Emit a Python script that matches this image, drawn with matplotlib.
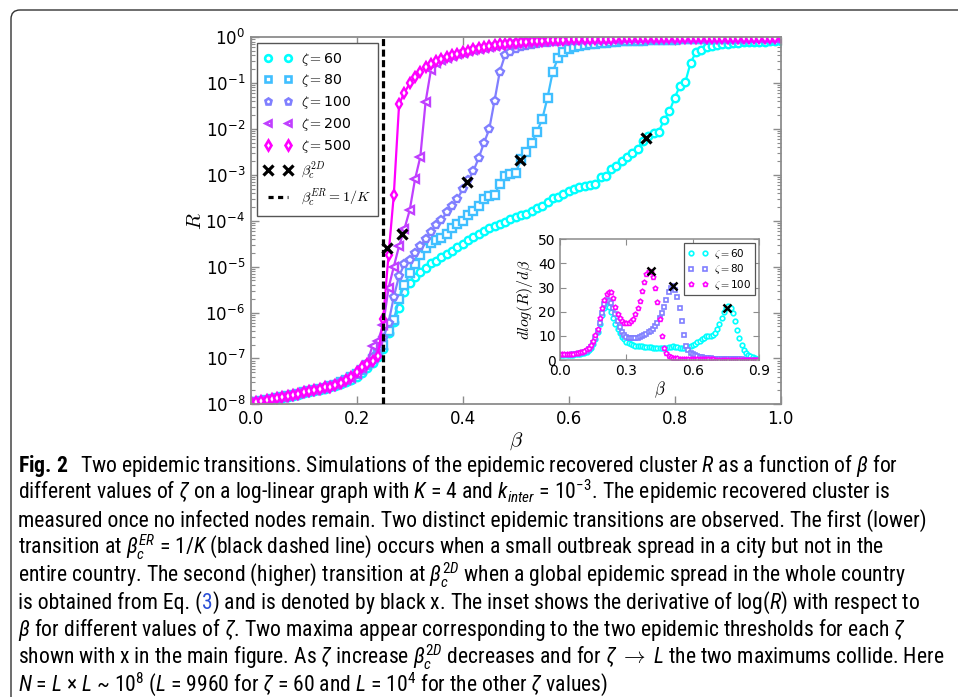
import numpy as np
import matplotlib
matplotlib.use('Agg')
import matplotlib.pyplot as plt
from matplotlib.lines import Line2D
from matplotlib.patches import FancyBboxPatch
from matplotlib.transforms import IdentityTransform
from matplotlib import font_manager as fm
from matplotlib.ticker import FixedLocator, FuncFormatter, LogLocator, NullFormatter

# ---------------- data ----------------
beta = [0.00, 0.01, 0.02, 0.03, 0.04, 0.05, 0.06, 0.07, 0.08, 0.09,
        0.10, 0.11, 0.12, 0.13, 0.14, 0.15, 0.16, 0.17, 0.18, 0.19,
        0.20, 0.21, 0.22, 0.23, 0.24, 0.25, 0.26, 0.27, 0.28, 0.29,
        0.30, 0.31, 0.32, 0.33, 0.34, 0.35, 0.36, 0.37, 0.38, 0.39,
        0.40, 0.41, 0.42, 0.43, 0.44, 0.45, 0.46, 0.47, 0.48, 0.49,
        0.50, 0.51, 0.52, 0.53, 0.54, 0.55, 0.56, 0.57, 0.58, 0.59,
        0.60, 0.61, 0.62, 0.63, 0.64, 0.65, 0.66, 0.67, 0.68, 0.69,
        0.70, 0.71, 0.72, 0.73, 0.74, 0.75, 0.76, 0.77, 0.78, 0.79,
        0.80, 0.81, 0.82, 0.83, 0.84, 0.85, 0.86, 0.87, 0.88, 0.89,
        0.90, 0.91, 0.92, 0.93, 0.94, 0.95, 0.96, 0.97, 0.98, 0.99, 1.00]

# log10(R) for each zeta
log10R_z60 = [-7.97, -7.95, -7.94, -7.92, -7.90, -7.88, -7.86, -7.84, -7.81, -7.79,
              -7.76, -7.74, -7.71, -7.69, -7.66, -7.63, -7.60, -7.56, -7.51, -7.46,
              -7.40, -7.32, -7.22, -7.10, -6.98, -6.80, -6.45, -6.20, -5.90, -5.55,
              -5.35, -5.22, -5.12, -5.02, -4.92, -4.88, -4.80, -4.72, -4.66, -4.58,
              -4.50, -4.42, -4.36, -4.28, -4.22, -4.16, -4.12, -4.07, -4.02, -3.97,
              -3.93, -3.88, -3.85, -3.78, -3.73, -3.67, -3.60, -3.50, -3.48, -3.42,
              -3.36, -3.30, -3.27, -3.24, -3.22, -3.20, -3.05, -3.02, -2.88, -2.80,
              -2.70, -2.62, -2.52, -2.43, -2.27, -2.15, -2.10, -2.06, -1.80, -1.62,
              -1.32, -1.06, -0.98, -0.56, -0.33, -0.29, -0.22, -0.19, -0.17, -0.15,
              -0.14, -0.13, -0.12, -0.115, -0.11, -0.105, -0.10, -0.10, -0.095, -0.09, -0.09]
log10R_z80 = [-7.96, -7.94, -7.93, -7.90, -7.88, -7.87, -7.84, -7.81, -7.80, -7.77,
              -7.74, -7.72, -7.68, -7.66, -7.64, -7.60, -7.57, -7.52, -7.48, -7.41,
              -7.35, -7.26, -7.15, -7.02, -6.90, -6.70, -6.40, -6.16, -5.70, -5.40,
              -5.15, -4.95, -4.74, -4.60, -4.48, -4.42, -4.38, -4.28, -4.15, -4.08,
              -4.00, -3.88, -3.78, -3.68, -3.52, -3.47, -3.44, -3.20, -3.02, -2.99,
              -2.97, -2.65, -2.50, -2.31, -2.06, -1.79, -1.32, -0.75, -0.45, -0.32,
              -0.26, -0.22, -0.19, -0.17, -0.15, -0.14, -0.13, -0.12, -0.11, -0.10,
              -0.095, -0.09, -0.085, -0.08, -0.076, -0.072, -0.068, -0.064, -0.06, -0.057,
              -0.054, -0.051, -0.048, -0.046, -0.044, -0.042, -0.04, -0.038, -0.036, -0.035,
              -0.034, -0.033, -0.032, -0.031, -0.03, -0.029, -0.028, -0.027, -0.026, -0.025, -0.025]
log10R_z100 = [-7.97, -7.95, -7.93, -7.91, -7.89, -7.86, -7.84, -7.82, -7.79, -7.77,
               -7.74, -7.71, -7.69, -7.66, -7.63, -7.60, -7.56, -7.51, -7.46, -7.40,
               -7.33, -7.24, -7.12, -6.98, -6.80, -6.55, -6.23, -5.66, -5.20, -4.95,
               -4.85, -4.70, -4.56, -4.40, -4.24, -4.10, -3.98, -3.82, -3.68, -3.52,
               -3.32, -3.12, -2.92, -2.64, -2.31, -2.01, -1.39, -0.75, -0.39, -0.32,
               -0.26, -0.22, -0.19, -0.17, -0.15, -0.13, -0.12, -0.11, -0.10, -0.09,
               -0.085, -0.08, -0.075, -0.07, -0.065, -0.06, -0.057, -0.054, -0.051, -0.048,
               -0.045, -0.043, -0.041, -0.039, -0.037, -0.035, -0.033, -0.032, -0.031, -0.03,
               -0.029, -0.028, -0.027, -0.026, -0.025, -0.024, -0.023, -0.022, -0.021, -0.02,
               -0.02, -0.019, -0.019, -0.018, -0.018, -0.017, -0.017, -0.016, -0.016, -0.015, -0.015]
log10R_z200 = [-7.96, -7.95, -7.93, -7.90, -7.89, -7.87, -7.84, -7.83, -7.80, -7.76,
               -7.74, -7.71, -7.69, -7.65, -7.64, -7.60, -7.56, -7.52, -7.46, -7.42,
               -7.33, -7.22, -7.08, -6.72, -6.62, -6.27, -5.47, -5.00, -4.55, -4.18,
               -3.77, -3.10, -2.61, -1.41, -0.72, -0.56, -0.50, -0.45, -0.41, -0.37,
               -0.34, -0.31, -0.28, -0.25, -0.23, -0.21, -0.19, -0.17, -0.15, -0.14,
               -0.125, -0.115, -0.105, -0.095, -0.085, -0.078, -0.072, -0.067, -0.062, -0.057,
               -0.052, -0.049, -0.046, -0.044, -0.041, -0.039, -0.037, -0.035, -0.033, -0.031,
               -0.029, -0.028, -0.027, -0.026, -0.025, -0.024, -0.023, -0.022, -0.021, -0.02,
               -0.019, -0.018, -0.017, -0.017, -0.016, -0.016, -0.015, -0.015, -0.014, -0.014,
               -0.013, -0.013, -0.012, -0.012, -0.011, -0.011, -0.011, -0.010, -0.010, -0.010, -0.009]
log10R_z500 = [-7.95, -7.94, -7.92, -7.91, -7.88, -7.86, -7.85, -7.82, -7.80, -7.77,
               -7.74, -7.72, -7.68, -7.66, -7.63, -7.62, -7.57, -7.53, -7.47, -7.40,
               -7.30, -7.18, -7.13, -7.05, -6.95, -6.14, -4.75, -3.44, -1.46, -1.21,
               -1.01, -0.86, -0.75, -0.66, -0.58, -0.52, -0.47, -0.43, -0.40, -0.36,
               -0.33, -0.30, -0.27, -0.24, -0.22, -0.20, -0.18, -0.16, -0.14, -0.13,
               -0.12, -0.11, -0.10, -0.09, -0.08, -0.075, -0.07, -0.065, -0.06, -0.055,
               -0.05, -0.048, -0.045, -0.043, -0.04, -0.038, -0.036, -0.034, -0.032, -0.03,
               -0.028, -0.027, -0.026, -0.025, -0.024, -0.023, -0.022, -0.021, -0.02, -0.019,
               -0.018, -0.017, -0.016, -0.016, -0.015, -0.015, -0.014, -0.014, -0.013, -0.013,
               -0.012, -0.012, -0.011, -0.011, -0.010, -0.010, -0.010, -0.009, -0.009, -0.009, -0.008]

zeta_labels = [r'$\zeta=$60', r'$\zeta=$80', r'$\zeta=$100', r'$\zeta=$200', r'$\zeta=$500']

# black x : beta_c^2D on the curves (zeta = 500, 200, 100, 80, 60)
beta_c2D = [0.257, 0.286, 0.4075, 0.509, 0.745]
R_c2D = [2.6e-5, 5.1e-5, 7.0e-4, 2.1e-3, 6.4e-3]
beta_cER = 0.25

# inset: dlog(R)/dbeta
beta_in = beta[:90]
dlog_z60 = [2.0, 2.0, 2.0, 2.0, 2.1, 2.1, 2.2, 2.3, 2.4, 2.5,
            2.7, 3.0, 3.4, 4.0, 5.0, 6.5, 8.5, 11.5, 15.0, 18.5,
            21.5, 22.5, 22.0, 20.0, 17.5, 15.0, 12.8, 11.0, 9.6, 8.5,
            7.6, 7.0, 6.6, 6.3, 6.0, 5.8, 5.7, 5.6, 5.5, 5.4,
            5.3, 5.2, 5.1, 5.0, 5.0, 4.9, 4.9, 5.0, 5.1, 5.3,
            5.5, 5.6, 5.5, 5.3, 5.1, 5.0, 5.0, 5.2, 5.5, 5.9,
            6.3, 6.8, 7.4, 8.0, 8.7, 9.3, 9.8, 10.0, 10.0, 10.3,
            11.2, 12.8, 15.0, 17.5, 20.0, 21.7, 22.4, 21.5, 19.4, 16.0,
            12.5, 9.0, 6.2, 4.2, 3.0, 2.1, 1.5, 1.1, 0.8, 0.6]
dlog_z80 = [2.0, 2.0, 2.0, 2.1, 2.1, 2.2, 2.3, 2.4, 2.5, 2.7,
            3.0, 3.3, 3.8, 4.5, 5.5, 7.0, 9.0, 12.0, 15.5, 19.5,
            23.0, 24.8, 24.5, 23.5, 21.5, 19.0, 16.0, 13.5, 11.8, 10.5,
            9.6, 9.1, 9.0, 9.0, 9.1, 9.3, 9.6, 10.0, 10.4, 10.9,
            11.5, 12.2, 13.0, 14.0, 15.5, 17.3, 19.5, 22.0, 25.0, 28.0,
            29.7, 30.5, 28.8, 26.0, 21.5, 16.0, 10.2, 6.0, 4.0, 3.0,
            2.4, 2.0, 1.7, 1.4, 1.2, 1.0, 0.9, 0.8, 0.7, 0.6,
            0.5, 0.5, 0.45, 0.4, 0.4, 0.35, 0.35, 0.3, 0.3, 0.3,
            0.25, 0.25, 0.25, 0.2, 0.2, 0.2, 0.2, 0.2, 0.2, 0.2]
dlog_z100 = [2.5, 2.5, 2.4, 2.4, 2.5, 2.5, 2.6, 2.8, 3.0, 3.2,
             3.5, 3.9, 4.4, 5.1, 6.3, 8.0, 10.2, 13.0, 17.5, 21.5,
             25.0, 27.5, 28.2, 28.0, 25.5, 22.0, 19.0, 17.2, 16.0, 15.5,
             15.4, 15.5, 16.0, 17.0, 19.0, 21.5, 24.5, 28.5, 32.5, 35.5,
             36.8, 36.5, 34.5, 30.0, 24.0, 17.0, 10.0, 5.0, 2.8, 1.8,
             1.3, 1.0, 0.8, 0.7, 0.6, 0.5, 0.5, 0.45, 0.4, 0.4,
             0.35, 0.35, 0.3, 0.3, 0.3, 0.3, 0.25, 0.25, 0.25, 0.25,
             0.2, 0.2, 0.2, 0.2, 0.2, 0.2, 0.2, 0.2, 0.2, 0.2,
             0.2, 0.2, 0.2, 0.2, 0.2, 0.2, 0.2, 0.2, 0.2, 0.2]
inset_labels = [r'$\zeta=$60', r'$\zeta=$80', r'$\zeta=$100']
inset_peak_beta = [0.409, 0.512, 0.752]
inset_peak_val = [36.7, 30.5, 21.7]

main_xticks = [0.0, 0.2, 0.4, 0.6, 0.8, 1.0]
inset_xticks = [0.0, 0.3, 0.6, 0.9]
inset_yticks = [0, 10, 20, 30, 40, 50]

caption_lines = [
    [(r"$\mathbf{Fig.}$", 'black'), (r"$\mathbf{2}$", 'black'),
     (r"Two epidemic transitions. Simulations of the epidemic recovered cluster $R$ as a function of $\beta$ for", 'black')],
    r"different values of $\zeta$ on a log-linear graph with $K$ = 4 and $k_{inter}$ = $10^{-3}$. The epidemic recovered cluster is",
    "measured once no infected nodes remain. Two distinct epidemic transitions are observed. The first (lower)",
    r"transition at $\beta_c^{ER}$ = 1/$K$ (black dashed line) occurs when a small outbreak spread in a city but not in the",
    r"entire country. The second (higher) transition at $\beta_c^{2D}$ when a global epidemic spread in the whole country",
    [("is obtained from Eq. (", 'black'), ("3", '#2b4fd6'),
     (r") and is denoted by black x. The inset shows the derivative of log($R$) with respect to", 'black')],
    r"$\beta$ for different values of $\zeta$. Two maxima appear corresponding to the two epidemic thresholds for each $\zeta$",
    r"shown with x in the main figure. As $\zeta$ increase $\beta_c^{2D}$ decreases and for $\zeta\ \rightarrow\ L$ the two maximums collide. Here",
    r"$N$ = $L$ × $L$ ~ $10^{8}$ ($L$ = 9960 for $\zeta$ = 60 and $L$ = $10^{4}$ for the other $\zeta$ values)",
]
# extra gaps (in em) after each segment of the first line: "Fig." _ "2" __ "Two ..."
first_line_gaps = [0.22, 0.55, 0.0]

# ---------------- style ----------------
def font_ok(name):
    try:
        fm.findfont(fm.FontProperties(family=name), fallback_to_default=False)
        return True
    except Exception:
        return False

CAP_FONT = next((f for f in ['Liberation Sans Narrow', 'Roboto Condensed', 'Open Sans Condensed',
                             'Liberation Sans'] if font_ok(f)), 'DejaVu Sans')

plt.rcParams['font.family'] = ['DejaVu Sans']
plt.rcParams['mathtext.fontset'] = 'cm'
plt.rcParams['mathtext.rm'] = CAP_FONT
plt.rcParams['mathtext.it'] = CAP_FONT + ':italic'
plt.rcParams['mathtext.bf'] = CAP_FONT + ':bold'
plt.rcParams['mathtext.sf'] = CAP_FONT

W, H = 958, 697
fig = plt.figure(figsize=(W / 100, H / 100), dpi=100)
fig.patch.set_facecolor('white')

def fx(px):
    return px / W

def fy(py):
    return 1 - py / H

cool = plt.get_cmap('cool')
cols = [cool(0.0), cool(0.25), cool(0.5), cool(0.75), cool(1.0)]
markers = ['o', 's', 'p', '<', 'd']
SPINE = '#8c8c8c'
DASH = (0, (2.2, 1.1))

# ---------------- main axes ----------------
L, R_, T, B = 250.7, 780.7, 37.1, 404.3
ax = fig.add_axes([fx(L), fy(B), (R_ - L) / W, (B - T) / H])
ax.set_yscale('log')
series = [log10R_z60, log10R_z80, log10R_z100, log10R_z200, log10R_z500]
for logs, c, mk in zip(series, cols, markers):
    ax.plot(beta, 10 ** np.array(logs), '-', color=c, lw=1.6, marker=mk, ms=5.4,
            mfc='white', mec=c, mew=1.7, zorder=2)
ax.axvline(beta_cER, color='k', ls=DASH, lw=2.3, zorder=4)
ax.plot(beta_c2D, R_c2D, ls='none', marker='x', color='k', ms=7, mew=2.3, zorder=6)

ax.set_xlim(0, 1)
ax.set_ylim(1e-8, 1)
ax.xaxis.set_major_locator(FixedLocator(main_xticks))
ax.xaxis.set_major_formatter(FuncFormatter(lambda v, p: '%.1f' % v))
ax.yaxis.set_major_locator(LogLocator(base=10, numticks=20))
ax.yaxis.set_minor_locator(LogLocator(base=10, subs=np.arange(2, 10), numticks=20))
ax.yaxis.set_minor_formatter(NullFormatter())
ax.yaxis.set_major_formatter(FuncFormatter(lambda v, p: r'$\mathregular{10^{%d}}$' % int(round(np.log10(v)))))
for s in ax.spines.values():
    s.set_color(SPINE)
    s.set_linewidth(1.3)
ax.tick_params(which='both', direction='in', top=True, right=True, color=SPINE)
ax.tick_params(which='major', length=6, width=1, labelsize=12, pad=4)
ax.tick_params(which='minor', length=3, width=0.8)
ax.set_xlabel(r'$\beta$', fontsize=15, labelpad=2)
ax.set_ylabel(r'$R$', fontsize=15, labelpad=0)

handles = [Line2D([], [], ls='none', marker=mk, ms=4.8, mfc='white', mec=c, mew=1.9)
           for c, mk in zip(cols, markers)]
handles += [Line2D([], [], ls='none', marker='x', color='k', ms=6.5, mew=2.3),
            Line2D([], [], color='k', ls=(0, (1.6, 1.4)), lw=2.3)]
labels = zeta_labels + [r'$\beta_c^{2D}$', r'$\beta_c^{ER}=1/K$']
leg = ax.legend(handles, labels, loc='upper left', numpoints=2, fontsize=10.2, fancybox=False,
                edgecolor='#555555', framealpha=1, handlelength=1.95, handletextpad=0.65,
                labelspacing=0.34, borderpad=0.5, borderaxespad=0.45)
leg.get_frame().set_linewidth(1.0)

# ---------------- inset ----------------
iL, iR, iT, iB = 560.0, 759.3, 239.3, 360.0
axin = fig.add_axes([fx(iL), fy(iB), (iR - iL) / W, (iB - iT) / H])
in_cols = [cool(0.0), cool(0.5), cool(1.0)]
in_mk = ['o', 's', 'p']
for vals, c, mk, lab in zip([dlog_z60, dlog_z80, dlog_z100], in_cols, in_mk, inset_labels):
    axin.plot(beta_in, vals, ls='none', marker=mk, ms=3.3, mfc='white', mec=c, mew=1.2, label=lab)
axin.plot(inset_peak_beta, inset_peak_val, ls='none', marker='x', color='k', ms=5.5, mew=1.8, zorder=5)
axin.set_xlim(0, 0.9)
axin.set_ylim(0, 50)
axin.xaxis.set_major_locator(FixedLocator(inset_xticks))
axin.xaxis.set_major_formatter(FuncFormatter(lambda v, p: '%.1f' % v))
axin.yaxis.set_major_locator(FixedLocator(inset_yticks))
axin.yaxis.set_major_formatter(FuncFormatter(lambda v, p: '%d' % v))
for s in axin.spines.values():
    s.set_color(SPINE)
    s.set_linewidth(1.1)
axin.tick_params(which='both', direction='in', top=True, right=True, color=SPINE,
                 length=4, width=0.8, labelsize=10, pad=3)
axin.set_xlabel(r'$\beta$', fontsize=12, labelpad=1)
axin.set_ylabel(r'$dlog(R)/d\beta$', fontsize=11.5, labelpad=2)
ileg = axin.legend(loc='upper right', numpoints=2, fontsize=7.5, fancybox=False, edgecolor='#555555',
                   framealpha=1, handlelength=1.9, handletextpad=0.6, labelspacing=0.12,
                   borderpad=0.35, borderaxespad=0.4)
ileg.get_frame().set_linewidth(0.9)

# ---------------- frame ----------------
frame = FancyBboxPatch((11, -120), 1200, H - 10 + 120, boxstyle='round,pad=0,rounding_size=9',
                       transform=IdentityTransform(), facecolor='none', edgecolor='#333333',
                       lw=1.0, clip_on=False)
fig.add_artist(frame)

# ---------------- caption ----------------
renderer = fig.canvas.get_renderer()
X0 = 18
targets = [925, 943, 938, 935, 940, 940, 938, 948]

def draw_caption(size):
    arts, widths = [], []
    em = size * 100 / 72.0
    for i, line in enumerate(caption_lines):
        yb = 472 + 27.4 * i
        segs = line if isinstance(line, list) else [(line, 'black')]
        gaps = first_line_gaps if i == 0 else [0.0] * len(segs)
        x = X0
        for (txt, c), g in zip(segs, gaps):
            t = fig.text(fx(x), fy(yb), txt, fontsize=size, family=CAP_FONT, color=c,
                         math_fontfamily='custom', ha='left', va='baseline')
            arts.append(t)
            x += t.get_window_extent(renderer).width + g * em
        widths.append(x - X0)
    return arts, widths

base = 14.0
arts, widths = draw_caption(base)
ratios = [(tg - X0) / w for tg, w in zip(targets, widths[:8])]
size = base * float(min(ratios))
for a in arts:
    a.remove()
draw_caption(size)

fig.savefig('out.png', dpi=100, facecolor='white')
